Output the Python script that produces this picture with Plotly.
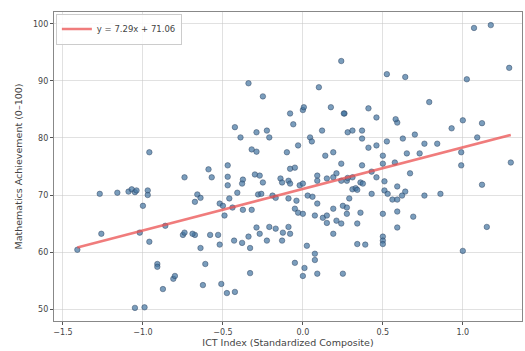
import plotly.graph_objects as go

ict_index = [
    -1.27, -1.16, -1.09, -1.07, -1.05, -1.04, -0.97, -0.97, -1.00, -0.96, -1.26, -1.02, -0.86,
    -1.41, -0.96, -0.91, -0.91, -0.875, -0.81, -0.80, -1.05, -0.99,
    -0.75, -0.675, -0.58, -0.53, -0.52, -0.64, -0.61, -0.625, -0.51, -0.475, -0.425,
    -0.43, -0.38, -0.34, -0.33, -0.33, -0.225, -0.13, -0.08, 0.025, -0.05, 0.01, 0.00,
    0.075, 0.075, 0.09, 0.25, 0.19, 0.34, 0.39, 0.50, 0.50, 0.50, 1.00,
    0.28, 0.31, 0.37, 0.37, 0.41, 0.46, 0.59, 0.525, 0.625, 0.70, 0.76, 0.84, 0.93, 1.00,
    1.12, 1.09, 0.99, 0.99, 1.30, 1.12, 1.15, 0.50, 0.65, 0.73, 0.575, 0.50, 0.43, 0.37,
    0.67, 0.31, 0.275, 0.36, 0.375, 0.46, 0.51, 0.59, 0.31, 0.33, 0.34, 0.51, 0.53, 0.43,
    0.64, 0.62, 0.56, 0.59, 0.76, 0.86, 0.29, 0.36, 0.275, 0.50, 0.59, 0.69, 0.34, 0.59,
    1.07, 1.175, 0.525, 0.64, 1.025, 1.29, 0.79, 0.41, 0.26, 0.46, 0.58,
    -0.34, -0.25, 0.24, 0.10, -0.08, 0.00, 0.006, 0.175, 0.256,
    -0.425, -0.39, -0.29, -0.225, -0.21, -0.06, 0.045, 0.056, 0.12, -0.03, -0.32, -0.29,
    -0.10, 0.14, 0.19, 0.24, -0.08, -0.05, -0.47, -0.59, -0.74, -0.57, -0.47, -0.375,
    -0.38, -0.30, -0.27, -0.25, -0.47, -0.14, -0.13, -0.09, -0.08, -0.02, 0.00, 0.09,
    0.09, 0.15, 0.19, 0.21, 0.24, 0.28, -0.66, -0.64, -0.675, -0.52, -0.50, -0.41,
    -0.46, -0.44, -0.375, -0.32, -0.28, -0.26, -0.19, -0.17, -0.04, -0.05, -0.09, 0.03,
    0.06, -0.03, 0.00, 0.09, 0.075, 0.125, 0.15, 0.19, 0.25, 0.275, -0.29, -0.21,
    -0.17, -0.09, -0.125, -0.27, 0.15, 0.21, 0.24, -0.74, -0.69, -0.49,
]
math_score = [
    70.2, 70.4, 70.6, 71.0, 70.5, 70.8, 70.8, 70.0, 68.1, 77.5, 63.2, 63.4, 64.6,
    60.4, 61.8, 57.9, 57.4, 53.5, 55.3, 55.8, 50.2, 50.3,
    63.0, 63.0, 63.0, 63.0, 61.3, 60.7, 57.9, 54.2, 54.4, 52.8, 53.0,
    62.0, 61.6, 62.7, 60.7, 56.3, 62.0, 62.0, 63.2, 61.1, 58.1, 57.2, 55.8,
    59.7, 58.6, 56.2, 56.2, 63.2, 61.4, 61.3, 62.7, 62.0, 61.4, 60.2,
    81.0, 81.3, 81.3, 79.9, 78.3, 78.7, 82.7, 79.4, 79.9, 80.6, 79.0, 79.0, 81.7, 83.1,
    82.6, 80.1, 77.5, 75.2, 75.7, 71.8, 64.4, 76.9, 77.3, 77.3, 75.7, 75.5, 74.1, 75.2,
    73.8, 73.1, 72.5, 72.2, 72.0, 73.1, 72.4, 71.5, 71.0, 71.2, 70.9, 70.8, 70.2, 70.2,
    70.6, 69.9, 69.2, 69.2, 69.9, 70.2, 69.4, 66.9, 66.7, 66.7, 67.1, 66.2, 65.0, 64.3,
    99.3, 99.8, 91.2, 90.7, 90.3, 92.3, 86.3, 85.2, 84.3, 83.6, 83.3,
    89.6, 87.3, 93.5, 88.9, 84.3, 84.9, 85.4, 85.4, 84.3,
    81.9, 80.1, 81.0, 81.3, 80.1, 82.4, 80.1, 79.4, 81.3, 78.7, 78.0, 77.6,
    77.5, 76.9, 77.5, 75.5, 74.6, 74.8, 75.2, 74.5, 73.1, 73.1, 73.2, 72.7,
    72.0, 73.6, 73.4, 72.2, 71.7, 72.9, 72.2, 72.5, 72.0, 71.7, 72.0, 73.4,
    72.5, 72.9, 73.1, 73.8, 72.5, 73.0, 70.1, 69.5, 68.8, 68.5, 68.1, 70.4,
    69.4, 67.8, 67.4, 67.4, 70.1, 70.2, 69.9, 69.5, 69.0, 67.6, 69.4, 69.9,
    69.7, 66.9, 66.7, 68.5, 66.4, 66.0, 66.4, 67.6, 68.1, 67.8, 64.3, 64.4,
    64.1, 64.4, 63.4, 63.2, 65.1, 65.5, 65.0, 63.4, 63.2, 66.4,
]
slope = 7.29
intercept = 71.06
x_ticks = [-1.5, -1.0, -0.5, 0.0, 0.5, 1.0]
x_tick_text = ["\u22121.5", "\u22121.0", "\u22120.5", "0.0", "0.5", "1.0"]
y_ticks = [50, 60, 70, 80, 90, 100]

x_lo, x_hi = min(ict_index), max(ict_index)
fit_x = [x_lo, x_hi]
fit_y = [slope * v + intercept for v in fit_x]

fig = go.Figure()
fig.add_trace(go.Scatter(
    x=ict_index, y=math_score, mode="markers",
    marker=dict(size=5.5, color="rgba(65,115,160,0.7)",
                line=dict(color="rgba(40,60,90,0.75)", width=0.6)),
    showlegend=False, hoverinfo="skip",
))
fig.add_trace(go.Scatter(
    x=fit_x, y=fit_y, mode="lines",
    line=dict(color="rgba(235,80,80,0.75)", width=2.5),
    name=f"y = {slope:.2f}x + {intercept:.2f}", hoverinfo="skip",
))

axis_common = dict(
    showgrid=True, gridcolor="rgba(200,200,200,0.55)", gridwidth=1,
    showline=True, linecolor="#888888", linewidth=1.2, mirror=True,
    ticks="outside", ticklen=3, tickcolor="#555555",
    tickfont=dict(family="DejaVu Sans", size=8, color="#444444"),
    zeroline=False, automargin=False,
)
fig.update_xaxes(
    range=[-1.556, 1.37], tickvals=x_ticks, ticktext=x_tick_text,
    title=dict(text="ICT Index (Standardized Composite)",
               font=dict(family="DejaVu Sans", size=9.5, color="#444444"), standoff=2),
    **axis_common,
)
fig.update_yaxes(
    range=[47.9, 102.1], tickvals=y_ticks,
    title=dict(text="Mathematics Achievement (0\u2013100)",
               font=dict(family="DejaVu Sans", size=9.5, color="#444444"), standoff=8),
    **axis_common,
)
fig.update_layout(
    width=525, height=351,
    margin=dict(l=54, r=3, t=12, b=30),
    plot_bgcolor="white", paper_bgcolor="white",
    legend=dict(x=0.004, y=0.995, xanchor="left", yanchor="top",
                bgcolor="rgba(255,255,255,0.85)", bordercolor="#cccccc", borderwidth=1,
                font=dict(family="DejaVu Sans", size=8.5, color="#444444"),
                itemwidth=30, tracegroupgap=0),
)
fig.write_html(
    "out.html",
    config={"displayModeBar": False},
    post_script="document.body.style.margin='0';document.body.style.overflow='hidden';",
)
